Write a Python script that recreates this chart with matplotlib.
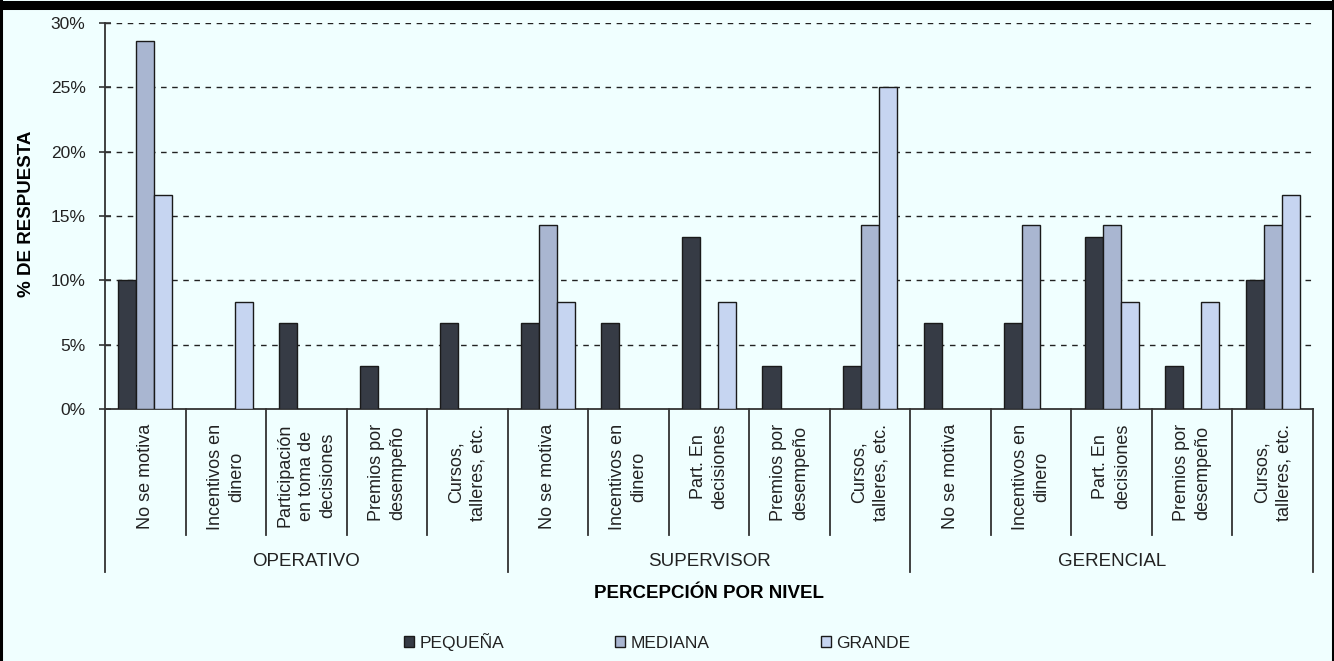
import matplotlib.pyplot as plt
import numpy as np
from matplotlib.lines import Line2D

plt.rcParams['font.family'] = ['Liberation Sans', 'DejaVu Sans']

# categories within each level
groups = ['OPERATIVO', 'SUPERVISOR', 'GERENCIAL']
categories = [
    'No se motiva', 'Incentivos en\ndinero', 'Participación\nen toma de\ndecisiones',
    'Premios por\ndesempeño', 'Cursos,\ntalleres, etc.',
    'No se motiva', 'Incentivos en\ndinero', 'Part. En\ndecisiones',
    'Premios por\ndesempeño', 'Cursos,\ntalleres, etc.',
    'No se motiva', 'Incentivos en\ndinero', 'Part. En\ndecisiones',
    'Premios por\ndesempeño', 'Cursos,\ntalleres, etc.',
]

# % de respuesta by company size
pequena = [10.0, 0, 6.67, 3.33, 6.67,
           6.67, 6.67, 13.33, 3.33, 3.33,
           6.67, 6.67, 13.33, 3.33, 10.0]
mediana = [28.57, 0, 0, 0, 0,
           14.29, 0, 0, 0, 14.29,
           0, 14.29, 14.29, 0, 14.29]
grande = [16.67, 8.33, 0, 0, 0,
          8.33, 0, 8.33, 0, 25.0,
          0, 0, 8.33, 8.33, 16.67]

series = [('PEQUEÑA', pequena, '#363b45'),
          ('MEDIANA', mediana, '#a9b6d1'),
          ('GRANDE', grande, '#c6d5f1')]

bg = '#f0ffff'
txt = '#222222'

fig = plt.figure(figsize=(13.34, 6.61), dpi=100)
fig.patch.set_facecolor(bg)
W, H = 1334, 661
ax = fig.add_axes([105 / W, 1 - 409 / H, (1313 - 105) / W, (409 - 23) / H])
ax.patch.set_facecolor(bg)

x = np.arange(len(categories))
w = 0.224
for k, (name, vals, col) in enumerate(series):
    v = np.array(vals, dtype=float)
    mask = v > 0
    ax.bar(x[mask] + (k - 1) * w, v[mask], width=w, color=col,
           edgecolor='#1a1a1a', linewidth=1.0, label=name, zorder=3)

ax.set_xlim(-0.5, len(categories) - 0.5)
ax.set_ylim(0, 30)
ax.set_yticks(np.arange(0, 31, 5))
ax.set_yticklabels([f'{t}%' for t in range(0, 31, 5)], fontsize=12.5, color=txt)
ax.tick_params(axis='y', direction='inout', length=8, width=1.2, color='#333333', pad=10)
ax.set_xticks([])
for t in range(5, 31, 5):
    ax.axhline(t, color='#222222', linestyle=(0, (4, 4)), linewidth=1.0, zorder=1)

for s in ['top', 'right']:
    ax.spines[s].set_visible(False)
for s in ['left', 'bottom']:
    ax.spines[s].set_color('#333333')
    ax.spines[s].set_linewidth(1.3)

# category labels and separators under the axis
tr = ax.get_xaxis_transform()
def fy(px):
    return (409 - px) / (409 - 23)

for i, lab in enumerate(categories):
    ax.text(i, fy(424), lab, rotation=90, ha='center', va='top',
            multialignment='center', fontsize=13, color=txt,
            linespacing=1.35, transform=tr, clip_on=False)
for b in range(len(categories) + 1):
    end = 572 if b % 5 == 0 else 535
    ax.add_line(Line2D([b - 0.5, b - 0.5], [0, fy(end)], transform=tr,
                       color='#333333', linewidth=1.3, clip_on=False))
for g, name in enumerate(groups):
    ax.text(g * 5 + 2, fy(562), name, ha='center', va='center',
            fontsize=13.5, color=txt, transform=tr, clip_on=False)

ax.text(0.5, fy(593), 'PERCEPCIÓN POR NIVEL', ha='center', va='center',
        fontsize=13.5, fontweight='bold', color='black', transform=ax.transAxes)
fig.text(27 / W, 1 - 214 / H, '% DE RESPUESTA', rotation=90, ha='center', va='center',
         fontsize=13.5, fontweight='bold', color='black')

fig.legend(loc='center', bbox_to_anchor=(657 / W, 1 - 642 / H), ncol=3, frameon=False,
           fontsize=12.5, handlelength=0.6, handleheight=0.6, handletextpad=0.3,
           columnspacing=6.4, labelcolor=txt)

# dark frame: thick band on top, thin sides
fig.add_artist(Line2D([0, 1], [1 - 4.5 / H] * 2, transform=fig.transFigure,
                      color='black', linewidth=6.5))
fig.add_artist(Line2D([1.5 / W] * 2, [0, 1], transform=fig.transFigure,
                      color='black', linewidth=2.2))
fig.add_artist(Line2D([1 - 1.5 / W] * 2, [0, 1], transform=fig.transFigure,
                      color='black', linewidth=2.2))

fig.savefig('out.png', dpi=100, facecolor=bg, transparent=False)
